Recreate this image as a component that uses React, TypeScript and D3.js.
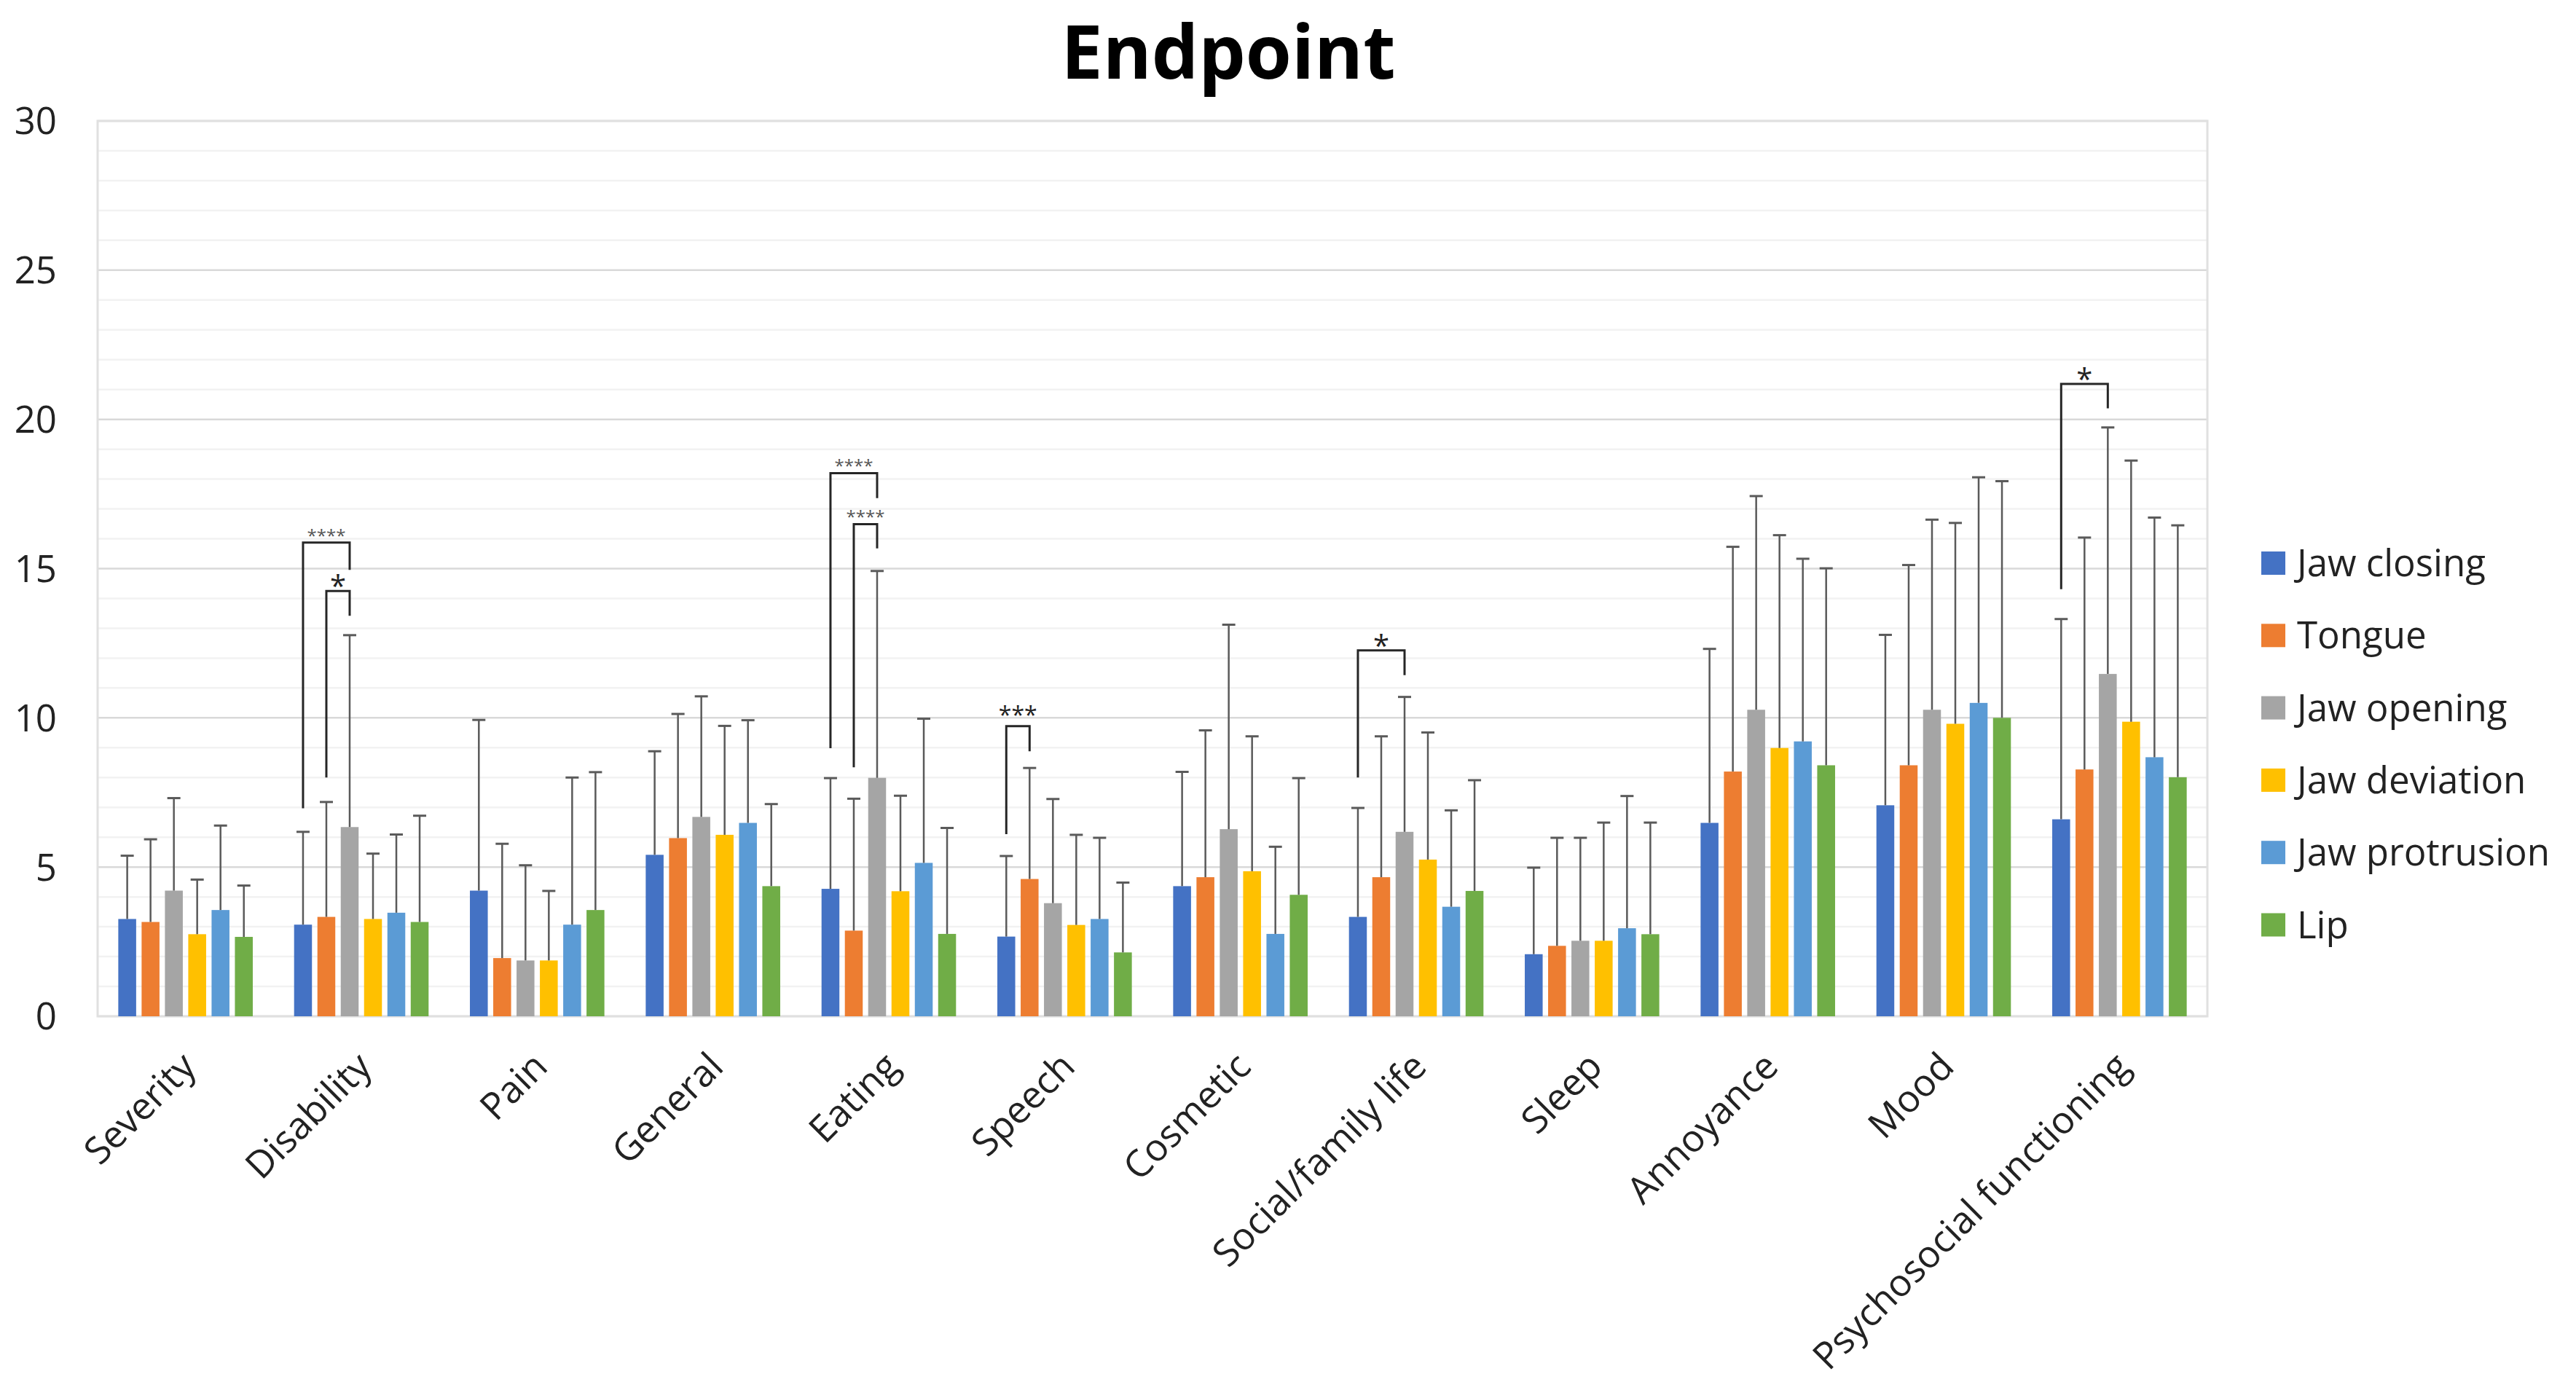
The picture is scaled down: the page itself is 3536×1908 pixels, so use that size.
import React from "react";
import * as d3 from "d3";

const categories = [
  "Severity",
  "Disability",
  "Pain",
  "General",
  "Eating",
  "Speech",
  "Cosmetic",
  "Social/family life",
  "Sleep",
  "Annoyance",
  "Mood",
  "Psychosocial functioning",
];

const seriesNames = ["Jaw closing", "Tongue", "Jaw opening", "Jaw deviation", "Jaw protrusion", "Lip"];
const seriesColors = ["#4472C4", "#ED7D31", "#A5A5A5", "#FFC000", "#5B9BD5", "#70AD47"];

// means
const jawClosing = [3.26, 3.07, 4.21, 5.41, 4.27, 2.67, 4.36, 3.33, 2.08, 6.48, 7.07, 6.6];
const tongue = [3.16, 3.33, 1.95, 5.97, 2.87, 4.6, 4.66, 4.66, 2.36, 8.2, 8.41, 8.27];
const jawOpening = [4.21, 6.34, 1.87, 6.68, 7.99, 3.79, 6.27, 6.18, 2.53, 10.27, 10.27, 11.47];
const jawDeviation = [2.75, 3.26, 1.87, 6.08, 4.19, 3.06, 4.86, 5.25, 2.53, 8.99, 9.8, 9.87];
const jawProtrusion = [3.56, 3.47, 3.07, 6.48, 5.14, 3.26, 2.76, 3.67, 2.95, 9.21, 10.5, 8.68];
const lip = [2.66, 3.16, 3.56, 4.36, 2.76, 2.14, 4.07, 4.2, 2.75, 8.41, 10.0, 8.01];

// standard deviations (upper error bars)
const jawClosingSD = [2.12, 3.11, 5.72, 3.47, 3.71, 2.7, 3.83, 3.65, 2.9, 5.83, 5.71, 6.71];
const tongueSD = [2.77, 3.85, 3.83, 4.16, 4.42, 3.72, 4.92, 4.72, 3.62, 7.53, 6.71, 7.77];
const jawOpeningSD = [3.1, 6.43, 3.19, 4.04, 6.93, 3.49, 6.85, 4.52, 3.45, 7.16, 6.37, 8.26];
const jawDeviationSD = [1.83, 2.19, 2.33, 3.65, 3.2, 3.02, 4.52, 4.26, 3.96, 7.13, 6.73, 8.75];
const jawProtrusionSD = [2.83, 2.62, 4.93, 3.44, 4.83, 2.72, 2.92, 3.23, 4.43, 6.12, 7.56, 8.03];
const lipSD = [1.72, 3.56, 4.62, 2.75, 3.55, 2.34, 3.91, 3.71, 3.74, 6.6, 7.93, 8.44];

const yTicks = [0, 5, 10, 15, 20, 25, 30];

// significance brackets: category, from series, to series, top value, left end value, right end value, label
const sigCategory = ["Disability", "Disability", "Eating", "Eating", "Speech", "Social/family life", "Psychosocial functioning"];
const sigFrom = [0, 1, 0, 1, 0, 0, 0];
const sigTo = [2, 2, 2, 2, 1, 2, 2];
const sigTop = [15.87, 14.25, 18.2, 16.49, 9.72, 12.26, 21.19];
const sigLeftEnd = [6.97, 8.0, 8.98, 8.34, 6.1, 8.0, 14.31];
const sigRightEnd = [14.96, 13.42, 17.36, 15.68, 8.88, 11.43, 20.37];
const sigLabel = ["****", "*", "****", "****", "***", "*", "*"];

const means = [jawClosing, tongue, jawOpening, jawDeviation, jawProtrusion, lip];
const sds = [jawClosingSD, tongueSD, jawOpeningSD, jawDeviationSD, jawProtrusionSD, lipSD];

const W = 3536;
const H = 1908;
const FONT = "'Open Sans', 'Noto Sans', sans-serif";

export default function App() {
  const left = 134;
  const right = 3030;
  const top = 166;
  const bottom = 1395;

  const x = d3.scaleBand<string>().domain(categories).range([left, right]).paddingInner(0.204).paddingOuter(0.102);
  const xs = d3
    .scaleBand<string>()
    .domain(seriesNames)
    .range([0, x.bandwidth()])
    .paddingInner(0.234)
    .paddingOuter(0.117);
  const y = d3.scaleLinear().domain([0, 30]).range([bottom, top]);

  const minor = d3.range(1, 30).filter((v) => v % 5 !== 0);
  const capW = 18;

  const labelSize = (s: string) => (s.length >= 4 ? 24 : s.length === 3 ? 32 : 40);

  return (
    <svg
      width={W}
      height={H}
      viewBox={`0 0 ${W} ${H}`}
      style={{ position: "absolute", left: 0, top: 0, display: "block", background: "#fff" }}
      fontFamily={FONT}
    >
      <rect x={0} y={0} width={W} height={H} fill="#fff" />
      {/* title */}
      <text x={1686} y={108} textAnchor="middle" fontSize={102} fontWeight={700} fill="#000">
        Endpoint
      </text>

      {/* minor grid */}
      {minor.map((v) => (
        <line key={"m" + v} x1={left} x2={right} y1={y(v)} y2={y(v)} stroke="#f2f2f2" strokeWidth={2.5} />
      ))}
      {/* major grid */}
      {yTicks.map((v) => (
        <line key={"g" + v} x1={left} x2={right} y1={y(v)} y2={y(v)} stroke="#d9d9d9" strokeWidth={2.5} />
      ))}
      {/* plot border */}
      <rect x={left} y={top} width={right - left} height={bottom - top} fill="none" stroke="#e0e0e0" strokeWidth={3} />

      {/* y tick labels */}
      {yTicks.map((v) => (
        <text key={"t" + v} x={78} y={y(v)} dy="0.36em" textAnchor="end" fontSize={51} fill="#222">
          {v}
        </text>
      ))}

      {/* bars */}
      {seriesNames.map((s, si) =>
        categories.map((c, ci) => {
          const bx = (x(c) as number) + (xs(s) as number);
          const v = means[si][ci];
          return (
            <rect
              key={s + c}
              x={bx}
              y={y(v)}
              width={xs.bandwidth()}
              height={y(0) - y(v)}
              fill={seriesColors[si]}
            />
          );
        })
      )}

      {/* error bars */}
      {seriesNames.map((s, si) =>
        categories.map((c, ci) => {
          const cx = (x(c) as number) + (xs(s) as number) + xs.bandwidth() / 2;
          const v = means[si][ci];
          const e = v + sds[si][ci];
          return (
            <g key={"e" + s + c} stroke="#5a5a5a">
              <line x1={cx} x2={cx} y1={y(v)} y2={y(e)} strokeWidth={2.5} />
              <line x1={cx - capW / 2} x2={cx + capW / 2} y1={y(e)} y2={y(e)} strokeWidth={3} />
            </g>
          );
        })
      )}

      {/* significance brackets */}
      {sigCategory.map((c, i) => {
        const x1 = (x(c) as number) + (xs(seriesNames[sigFrom[i]]) as number) + xs.bandwidth() / 2;
        const x2 = (x(c) as number) + (xs(seriesNames[sigTo[i]]) as number) + xs.bandwidth() / 2;
        const yt = y(sigTop[i]);
        const fs = labelSize(sigLabel[i]);
        const path = `M${x1},${y(sigLeftEnd[i])}V${yt}H${x2}V${y(sigRightEnd[i])}`;
        return (
          <g key={"s" + i}>
            <path d={path} fill="none" stroke="#262626" strokeWidth={3} />
            <text
              x={(x1 + x2) / 2}
              y={yt - (sigLabel[i].length === 3 ? 22 : 15) + 0.57 * fs}
              textAnchor="middle"
              fontSize={fs}
              fill={sigLabel[i].length >= 4 ? "#555" : "#222"}
            >
              {sigLabel[i]}
            </text>
          </g>
        );
      })}

      {/* x labels */}
      {categories.map((c) => {
        const cx = (x(c) as number) + x.bandwidth() / 2;
        return (
          <text
            key={"x" + c}
            transform={`translate(${cx + 17},${bottom + 72}) rotate(-45)`}
            textAnchor="end"
            fontSize={51.5}
            fill="#222"
          >
            {c}
          </text>
        );
      })}

      {/* legend */}
      {seriesNames.map((s, i) => {
        const cy = 773 + i * 99.3;
        return (
          <g key={"l" + s}>
            <rect x={3104} y={cy - 16} width={33} height={32} fill={seriesColors[i]} />
            <text x={3153} y={cy + 18} fontSize={51} fill="#222">
              {s}
            </text>
          </g>
        );
      })}
    </svg>
  );
}
